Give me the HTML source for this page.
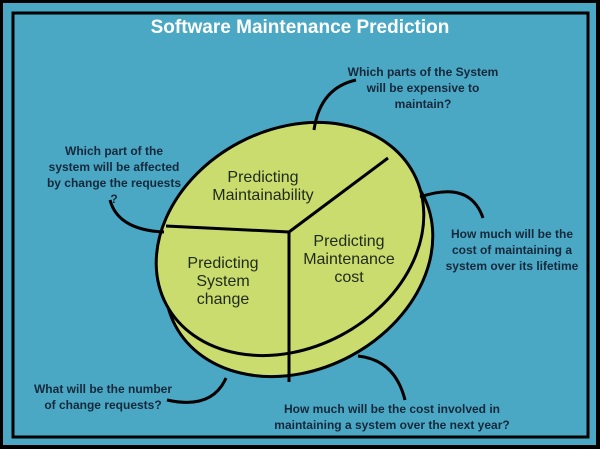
<!DOCTYPE html>
<html><head><meta charset="utf-8"><style>
html,body{margin:0;padding:0;background:#000;}
svg{display:block;}
text{font-family:"Liberation Sans",Arial,sans-serif;}
.q{font-size:12px;font-weight:bold;fill:#16283a;text-anchor:middle;}
.p{font-size:16px;fill:#1f2a1a;text-anchor:middle;}
</style></head><body>
<svg width="600" height="449" viewBox="0 0 600 449" xmlns="http://www.w3.org/2000/svg">
<rect x="0" y="0" width="600" height="449" fill="#000"/>
<rect x="3" y="3" width="593" height="442" fill="#4aa8c5"/>
<rect x="13" y="13" width="575" height="424" fill="none" stroke="#000" stroke-width="3"/>
<text x="300" y="33" font-size="19" font-weight="bold" fill="#fff" text-anchor="middle">Software Maintenance Prediction</text>

<g stroke="#000" stroke-width="3" fill="#cbdc6e">
<ellipse cx="299" cy="260" rx="140" ry="109" transform="rotate(-28 299 260)"/>
<ellipse cx="290" cy="239" rx="140" ry="109" transform="rotate(-28 290 239)"/>
</g>
<g stroke="#000" stroke-width="3" fill="none">
<path d="M289 232 L388 158"/>
<path d="M289 232 L166 226"/>
<path d="M289 232 L289 382"/>
<path d="M314 130 Q320 88 356 80"/>
<path d="M110 200 Q118 230 164 232"/>
<path d="M420 197 Q470 180 483 218"/>
<path d="M358 356 Q395 360 405 400"/>
<path d="M226 378 Q212 410 167 400"/>
</g>

<text class="p" x="263" y="182">Predicting</text>
<text class="p" x="263" y="200">Maintainability</text>
<text class="p" x="223" y="268">Predicting</text>
<text class="p" x="223" y="286">System</text>
<text class="p" x="223" y="304">change</text>
<text class="p" x="349" y="246">Predicting</text>
<text class="p" x="349" y="264">Maintenance</text>
<text class="p" x="349" y="282">cost</text>

<text class="q" x="423" y="76">Which parts of the System</text>
<text class="q" x="423" y="92">will be expensive to</text>
<text class="q" x="423" y="108">maintain?</text>

<text class="q" x="114" y="155">Which part of the</text>
<text class="q" x="114" y="171">system will be affected</text>
<text class="q" x="114" y="187">by change the requests</text>
<text class="q" x="114" y="203">?</text>

<text class="q" x="512" y="238">How much will be the</text>
<text class="q" x="512" y="254">cost of maintaining a</text>
<text class="q" x="512" y="270">system over its lifetime</text>

<text class="q" x="103" y="393">What will be the number</text>
<text class="q" x="103" y="409">of change requests?</text>

<text class="q" x="392" y="413">How much will be the cost involved in</text>
<text class="q" x="392" y="429">maintaining a system over the next year?</text>
</svg>
</body></html>
